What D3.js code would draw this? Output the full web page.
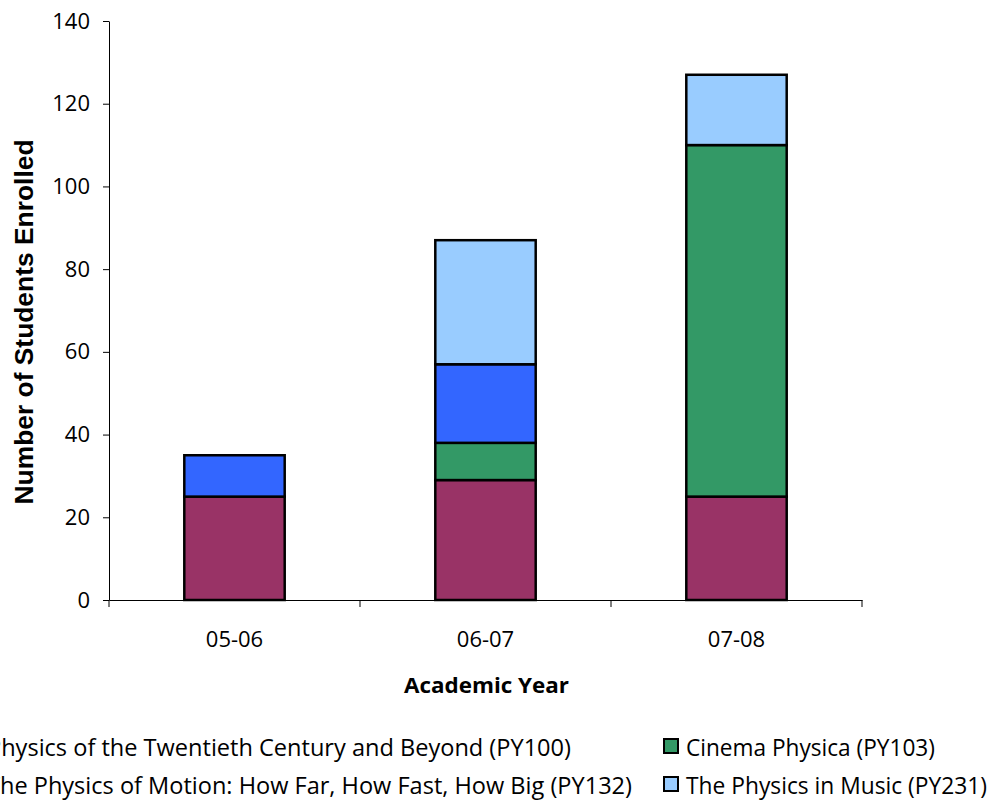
<!DOCTYPE html>
<html><head><meta charset="utf-8">
<script src="https://cdn.jsdelivr.net/npm/d3@7"></script>
<style>
html,body{margin:0;padding:0;background:#fff;overflow:hidden;}
svg{display:block;}
</style></head>
<body><svg id="c" width="989" height="803"></svg>
<script>
const years = ["05-06", "06-07", "07-08"];
const courses = [
  "Physics of the Twentieth Century and Beyond (PY100)",
  "Cinema Physica (PY103)",
  "The Physics of Motion: How Far, How Fast, How Big (PY132)",
  "The Physics in Music (PY231)"
];
const keys = ["PY100", "PY103", "PY132", "PY231"];
const py100 = [25, 29, 25];
const py103 = [0, 9, 85];
const py132 = [10, 19, 0];
const py231 = [0, 30, 17];
const colors = ["#993366", "#339966", "#3366FF", "#99CCFF"];
const yTicks = [0, 20, 40, 60, 80, 100, 120, 140];

const table = years.map((y, i) => ({year: y, PY100: py100[i], PY103: py103[i], PY132: py132[i], PY231: py231[i]}));

const svg = d3.select("#c");
const m = {left: 109, right: 862, top: 21, bottom: 600};
const x = d3.scaleBand().domain(years).range([m.left, m.right]).padding(0);
const y = d3.scaleLinear().domain([0, 140]).range([m.bottom, m.top]);
const color = d3.scaleOrdinal().domain(keys).range(colors);

const tickFont = "'Open Sans', 'Noto Sans', sans-serif";

// Y axis
const yAxis = svg.append("g").attr("transform", `translate(${m.left},0)`)
  .call(d3.axisLeft(y).tickValues(yTicks).tickSize(6).tickPadding(13).tickSizeOuter(0));
yAxis.select(".domain").attr("stroke", "#000").attr("stroke-width", 1);
yAxis.selectAll(".tick line").attr("stroke", "#000");
yAxis.selectAll(".tick text").attr("font-family", tickFont).attr("font-size", 22).attr("fill", "#000");

// X axis
const xAxis = svg.append("g").attr("transform", `translate(0,${m.bottom})`)
  .call(d3.axisBottom(x).tickSize(0).tickPadding(31).tickSizeOuter(0));
xAxis.select(".domain").attr("stroke", "#000").attr("stroke-width", 1);
xAxis.selectAll(".tick text").attr("font-family", tickFont).attr("font-size", 22).attr("fill", "#000");
const edges = years.map(d => x(d)).concat([x(years[years.length - 1]) + x.bandwidth()]);
xAxis.selectAll(".edge").data(edges).join("line").attr("class", "edge")
  .attr("x1", d => d).attr("x2", d => d).attr("y1", 0).attr("y2", 7).attr("stroke", "#000");

// Bars
const stack = d3.stack().keys(keys)(table);
const bw = x.bandwidth() * 0.4;
const off = (x.bandwidth() - bw) / 2;
svg.append("g").selectAll("g").data(stack).join("g")
  .attr("fill", d => color(d.key))
  .selectAll("rect").data(d => d.filter(s => s[1] - s[0] > 0)).join("rect")
  .attr("x", d => x(d.data.year) + off)
  .attr("width", bw)
  .attr("y", d => y(d[1]))
  .attr("height", d => y(d[0]) - y(d[1]))
  .attr("stroke", "#000").attr("stroke-width", 2.5);

// Axis titles
svg.append("text").attr("x", (m.left + m.right) / 2 + 1).attr("y", 693)
  .attr("text-anchor", "middle").attr("font-family", tickFont).attr("font-weight", "bold")
  .attr("font-size", 22).attr("textLength", 165).attr("lengthAdjust", "spacingAndGlyphs")
  .text("Academic Year");
svg.append("text").attr("transform", "translate(33,322) rotate(-90)")
  .attr("text-anchor", "middle").attr("font-family", "'Liberation Sans', Arial, sans-serif")
  .attr("font-weight", "bold").attr("font-size", 26).attr("textLength", 365).attr("lengthAdjust", "spacingAndGlyphs")
  .text("Number of Students Enrolled");

// Legend (row-major: col1 PY100, col2 PY103; col1 PY132, col2 PY231)
const legX = [-13, 686];
const legY = [746, 784];
const legW = [584, 249, 645, 301];
const leg = svg.append("g").selectAll("g").data(keys).join("g")
  .attr("transform", (d, i) => `translate(${legX[i % 2]},${legY[Math.floor(i / 2)]})`);
leg.append("rect").attr("x", -22).attr("y", -7).attr("width", 14).attr("height", 14)
  .attr("fill", d => color(d)).attr("stroke", "#000").attr("stroke-width", 2);
leg.append("text").attr("x", 0).attr("y", 10)
  .attr("font-family", tickFont).attr("font-size", 23)
  .attr("textLength", (d, i) => legW[i]).attr("lengthAdjust", "spacingAndGlyphs")
  .text((d, i) => courses[i]);
</script></body></html>
